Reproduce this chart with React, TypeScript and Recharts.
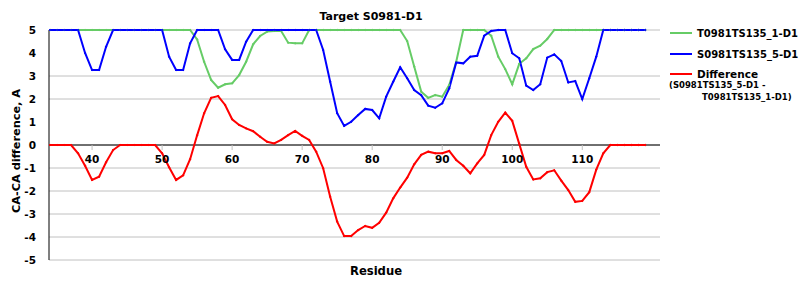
import React from "react";
import { LineChart, Line, XAxis, YAxis, CartesianGrid, ReferenceLine } from "recharts";

const FIRST_RESIDUE = 34;
const X_TICKS = [40, 50, 60, 70, 80, 90, 100, 110];
const Y_TICKS = [-5, -4, -3, -2, -1, 0, 1, 2, 3, 4, 5];

const T1_VALUES = [
  5, 5, 5, 5, 5, 5, 5, 5, 5, 5, 5, 5, 5, 5, 5, 5, 5, 5, 5, 5, 5,
  4.59, 3.62, 2.83, 2.49, 2.64, 2.68, 3.04, 3.62, 4.38, 4.74, 4.93, 4.96, 4.96, 4.45, 4.42, 4.42,
  5, 5, 5, 5, 5, 5, 5, 5, 5, 5, 5, 5, 5, 5,
  4.52, 3.41, 2.32, 2.05, 2.17, 2.1, 2.61, 3.62,
  5, 5, 5, 5,
  4.75, 3.84, 3.3, 2.64, 3.53, 3.77, 4.17, 4.32, 4.61,
  5, 5, 5, 5, 5, 5, 5, 5, 5, 5, 5, 5, 5, 5,
];

const S5_VALUES = [
  5, 5, 5, 5, 5,
  4.0, 3.26, 3.26, 4.27, 5,
  5, 5, 5, 5, 5, 5, 5,
  3.84, 3.26, 3.26, 4.42, 5, 5, 5, 5,
  4.16, 3.7, 3.7, 4.49,
  5, 5, 5, 5, 5, 5, 5, 5, 5, 5,
  4.13, 2.75, 1.38, 0.83, 1.01, 1.3, 1.57, 1.52, 1.16, 2.1, 2.75, 3.38, 2.9, 2.39, 2.17, 1.71, 1.62, 1.81, 2.46, 3.59,
  3.55, 3.84, 3.88, 4.75, 4.96, 5, 5, 3.99, 3.77, 2.58, 2.39, 2.64, 3.8, 3.94, 3.65, 2.72, 2.78, 2.0, 2.9, 3.84,
  5, 5, 5, 5, 5, 5, 5,
];

const DIFF_VALUES = [
  0, 0, 0, 0,
  -0.36, -0.9, -1.52, -1.38, -0.75, -0.22,
  0, 0, 0, 0, 0, 0,
  -0.36, -0.97, -1.52, -1.32, -0.62, 0.42, 1.38, 2.05, 2.13, 1.74, 1.12, 0.87, 0.72, 0.6, 0.36, 0.14,
  0.07, 0.22, 0.43, 0.61, 0.4, 0.22, -0.29, -1.01, -2.25, -3.33, -3.96, -3.96, -3.7, -3.52, -3.6, -3.38,
  -2.94, -2.32, -1.85, -1.42, -0.84, -0.43, -0.29, -0.36, -0.36, -0.26, -0.65, -0.9, -1.23, -0.8, -0.43, 0.43,
  1.01, 1.41, 1.05, 0.05, -0.95, -1.5, -1.45, -1.18, -1.1, -1.55, -1.96, -2.47, -2.43, -2.05, -1.07, -0.36,
  0, 0, 0, 0, 0, 0,
];

const RESIDUES = DIFF_VALUES.map((_, i) => FIRST_RESIDUE + i);

const data = RESIDUES.map((res, i) => ({
  res,
  t1: T1_VALUES[i],
  s5: S5_VALUES[i],
  diff: DIFF_VALUES[i],
}));

const FONT = "'DejaVu Sans', Verdana, sans-serif";
const PLOT_TOP = 30;
const PLOT_H = 230;
const ZERO_Y = PLOT_TOP + PLOT_H / 2;

const GREEN = "#66cc66";
const BLUE = "#0000ff";
const RED = "#ff0000";

const XTick = (props: any) => {
  const { x, payload } = props;
  return (
    <g>
      <line x1={x} x2={x} y1={ZERO_Y} y2={ZERO_Y + 5} stroke="#c0c0c0" />
      <text x={x} y={ZERO_Y + 18} textAnchor="middle" fontFamily={FONT} fontWeight="bold" fontSize={10.5} fill="#000">
        {payload.value}
      </text>
    </g>
  );
};

export default function App() {
  return (
    <div style={{ position: "absolute", left: 0, top: 0, width: 800, height: 300, background: "#fff" }}>
      <LineChart width={800} height={300} data={data} margin={{ top: PLOT_TOP, right: 140, left: 0, bottom: 0 }}>
        <CartesianGrid horizontal vertical={false} stroke="#c0c0c0" yAxisId="l" />
        <XAxis
          dataKey="res"
          type="number"
          domain={[33.85, 121.1]}
          ticks={X_TICKS}
          axisLine={false}
          tickLine={false}
          height={40}
          tick={<XTick />}
          interval={0}
        />
        <YAxis
          yAxisId="l"
          width={49}
          domain={[-5, 5]}
          ticks={Y_TICKS}
          tickLine={false}
          tickSize={0}
          tickMargin={13}
          axisLine={{ stroke: "#000" }}
          tick={{ fontFamily: FONT, fontWeight: "bold", fontSize: 10.5, fill: "#000" }}
        />
        <YAxis yAxisId="r" orientation="right" width={0} domain={[-5, 5]} tick={false} tickLine={false} axisLine={{ stroke: "#c0c0c0" }} />
        <ReferenceLine yAxisId="l" y={0} stroke="#000" strokeWidth={1} />
        <Line yAxisId="l" type="linear" dataKey="t1" stroke={GREEN} strokeWidth={2} dot={{ r: 0.7, fill: GREEN, stroke: GREEN, strokeWidth: 1 }} isAnimationActive={false} />
        <Line yAxisId="l" type="linear" dataKey="s5" stroke={BLUE} strokeWidth={2} dot={{ r: 0.7, fill: BLUE, stroke: BLUE, strokeWidth: 1 }} isAnimationActive={false} />
        <Line yAxisId="l" type="linear" dataKey="diff" stroke={RED} strokeWidth={2} dot={{ r: 0.7, fill: RED, stroke: RED, strokeWidth: 1 }} isAnimationActive={false} />
      </LineChart>
      <svg width={800} height={300} style={{ position: "absolute", left: 0, top: 0, pointerEvents: "none" }}>
        <text x={371} y={20} textAnchor="middle" fontFamily={FONT} fontWeight="bold" fontSize={11} fill="#000">
          Target S0981-D1
        </text>
        <text
          transform="translate(20,151) rotate(-90)"
          textAnchor="middle"
          fontFamily={FONT}
          fontWeight="bold"
          fontSize={11.3}
          fill="#000"
        >
          CA-CA difference, A
        </text>
        <text x={376} y={275} textAnchor="middle" fontFamily={FONT} fontWeight="bold" fontSize={11.6} fill="#000">
          Residue
        </text>
        <g fontFamily={FONT} fontWeight="bold" fill="#000">
          <line x1={670} x2={692} y1={33} y2={33} stroke={GREEN} strokeWidth={2} />
          <text x={697} y={37} fontSize={10}>T0981TS135_1-D1</text>
          <line x1={670} x2={692} y1={54} y2={54} stroke={BLUE} strokeWidth={2} />
          <text x={697} y={58} fontSize={10}>S0981TS135_5-D1</text>
          <line x1={670} x2={692} y1={74} y2={74} stroke={RED} strokeWidth={2} />
          <text x={697} y={78} fontSize={10.5}>Difference</text>
          <text x={669} y={88} fontSize={8.5}>(S0981TS135_5-D1 -</text>
          <text x={702} y={100} fontSize={8.5}>T0981TS135_1-D1)</text>
        </g>
      </svg>
    </div>
  );
}
